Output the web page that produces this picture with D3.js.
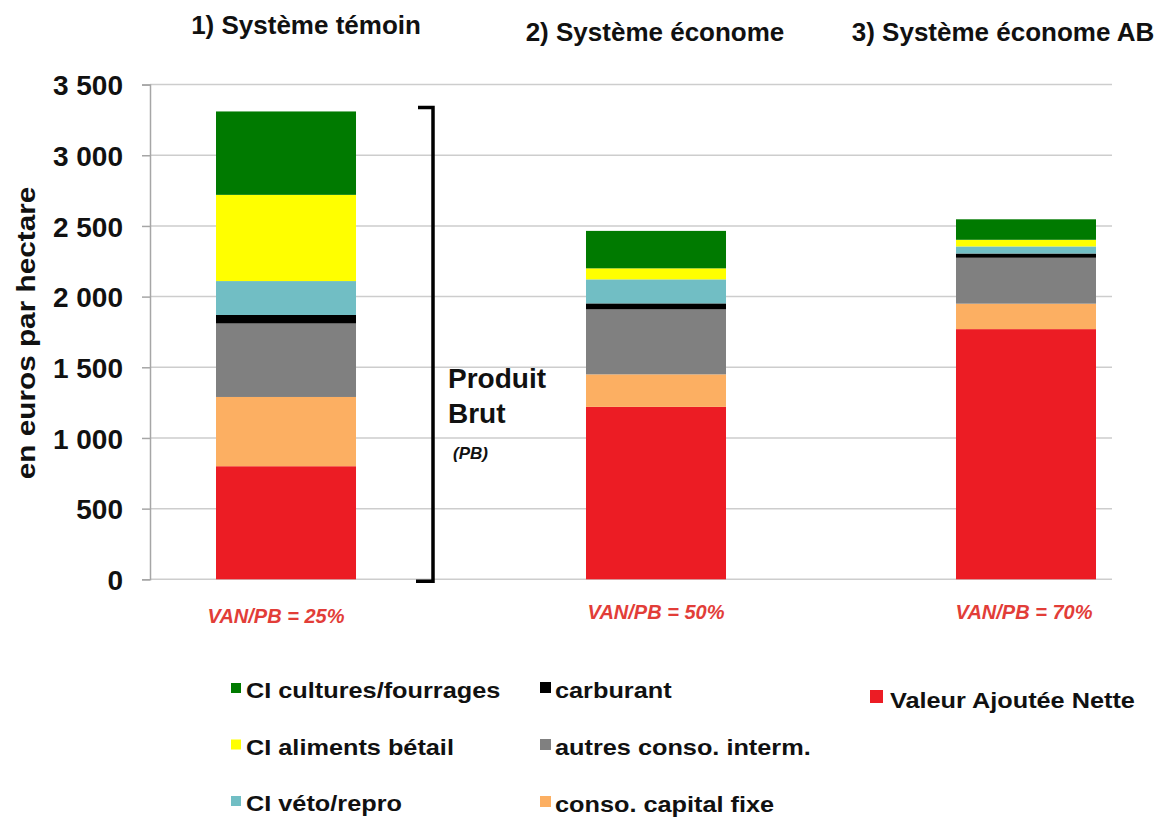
<!DOCTYPE html>
<html>
<head>
<meta charset="utf-8">
<script src="https://cdn.jsdelivr.net/npm/d3@7"></script>
<style>
  html, body { margin: 0; padding: 0; background: #ffffff; }
  svg { display: block; font-family: "Liberation Sans", Arial, sans-serif; }
</style>
</head>
<body>
<svg id="chart" width="1160" height="818"></svg>
<script>
// ---- data ----
const categories = ["1) Système témoin", "2) Système économe", "3) Système économe AB"];
const seriesNames = [
  "Valeur Ajoutée Nette",
  "conso. capital fixe",
  "autres conso. interm.",
  "carburant",
  "CI véto/repro",
  "CI aliments bétail",
  "CI cultures/fourrages"
];
const valeurAjouteeNette = [800, 1220, 1770];
const consoCapitalFixe    = [490, 230, 180];
const autresConsoInterm   = [520, 460, 325];
const carburant           = [60, 42, 30];
const ciVetoRepro         = [240, 170, 50];
const ciAlimentsBetail    = [610, 78, 47];
const ciCulturesFourrages = [590, 265, 145];
const ratioLabels = ["VAN/PB = 25%", "VAN/PB = 50%", "VAN/PB = 70%"];
const yTicks = [0, 500, 1000, 1500, 2000, 2500, 3000, 3500];
const yTitle = "en euros par hectare";
const bracketLabel = ["Produit", "Brut"];
const bracketSub = "(PB)";
const legendColumns = [
  ["CI cultures/fourrages", "CI aliments bétail", "CI véto/repro"],
  ["carburant", "autres conso. interm.", "conso. capital fixe"],
  ["Valeur Ajoutée Nette"]
];

const colors = {
  "Valeur Ajoutée Nette": "#ec1c24",
  "conso. capital fixe": "#fcaf62",
  "autres conso. interm.": "#808080",
  "carburant": "#000000",
  "CI véto/repro": "#71bec4",
  "CI aliments bétail": "#ffff00",
  "CI cultures/fourrages": "#007a00"
};

const seriesValues = [valeurAjouteeNette, consoCapitalFixe, autresConsoInterm,
  carburant, ciVetoRepro, ciAlimentsBetail, ciCulturesFourrages];
const rows = categories.map((c, i) => {
  const r = { cat: c };
  seriesNames.forEach((s, k) => { r[s] = seriesValues[k][i]; });
  return r;
});

// ---- layout ----
const svg = d3.select("#chart");
const plotLeft = 150, plotRight = 1112, plotTop = 84.6, plotBottom = 579.3;

const x = d3.scaleBand().domain(categories).range([216, 1096]).paddingInner(0.6216).paddingOuter(0);
const y = d3.scaleLinear().domain([0, 3500]).range([plotBottom, plotTop]);

const locale = d3.formatLocale({ decimal: ",", thousands: " ", grouping: [3], currency: ["", " €"] });
const fmt = locale.format(",");

// gridlines
svg.append("g")
  .selectAll("line")
  .data(yTicks)
  .join("line")
  .attr("x1", plotLeft).attr("x2", plotRight)
  .attr("y1", d => y(d)).attr("y2", d => y(d))
  .attr("stroke", "#cdcdcd").attr("stroke-width", 1.5);

// y axis
const yAxis = svg.append("g")
  .attr("transform", `translate(${plotLeft},0)`)
  .call(d3.axisLeft(y).tickValues(yTicks).tickFormat(fmt).tickSize(8).tickPadding(19));
yAxis.select(".domain").attr("stroke", "#a6a6a6").attr("stroke-width", 1.5);
yAxis.selectAll(".tick line").attr("stroke", "#a6a6a6").attr("stroke-width", 1.5);
yAxis.selectAll(".tick text")
  .attr("font-family", "'Liberation Sans', Arial, sans-serif")
  .attr("font-size", 28).attr("font-weight", "bold").attr("fill", "#111")
  .attr("dy", "0.36em");

// y title
svg.append("text")
  .attr("transform", "translate(35,333) rotate(-90) scale(1.19,1)")
  .attr("text-anchor", "middle")
  .attr("font-size", 25).attr("font-weight", "bold").attr("fill", "#111")
  .text(yTitle);

// stacked bars
const stacked = d3.stack().keys(seriesNames)(rows);
svg.append("g")
  .selectAll("g")
  .data(stacked)
  .join("g")
  .attr("fill", d => colors[d.key])
  .selectAll("rect")
  .data(d => d)
  .join("rect")
  .attr("x", d => x(d.data.cat))
  .attr("width", x.bandwidth())
  .attr("y", d => y(d[1]))
  .attr("height", d => y(d[0]) - y(d[1]));

// category titles
const titleDx = [20, -1, -23];
const titleY = [34, 41, 41];
svg.append("g")
  .selectAll("text")
  .data(categories)
  .join("text")
  .attr("x", (d, i) => x(d) + x.bandwidth() / 2 + titleDx[i])
  .attr("y", (d, i) => titleY[i])
  .attr("text-anchor", "middle")
  .attr("font-size", 26).attr("font-weight", "bold").attr("fill", "#111")
  .text(d => d);

// VAN/PB labels
const ratioDx = [-10, 0, -2];
const ratioY = [623, 619, 619];
svg.append("g")
  .selectAll("text")
  .data(ratioLabels)
  .join("text")
  .attr("x", (d, i) => x(categories[i]) + x.bandwidth() / 2 + ratioDx[i])
  .attr("y", (d, i) => ratioY[i])
  .attr("text-anchor", "middle")
  .attr("font-size", 20).attr("font-weight", "bold").attr("font-style", "italic")
  .attr("fill", "#e23d38")
  .text(d => d);

// Produit Brut bracket (spans bar 1 total)
const total1 = d3.sum(seriesValues, s => s[0]);
const bx = x(categories[0]) + x.bandwidth() + 77;
const bTop = y(total1) - 4, bBot = y(0) + 2;
svg.append("path")
  .attr("d", `M${bx - 15},${bTop} H${bx} V${bBot} H${bx - 17}`)
  .attr("fill", "none").attr("stroke", "#000").attr("stroke-width", 3.5);
svg.append("g")
  .selectAll("text")
  .data(bracketLabel)
  .join("text")
  .attr("x", bx + 15)
  .attr("y", (d, i) => 388 + i * 35)
  .attr("font-size", 28).attr("font-weight", "bold").attr("fill", "#111")
  .text(d => d);
svg.append("text")
  .attr("x", bx + 20).attr("y", 459)
  .attr("font-size", 17).attr("font-weight", "bold").attr("font-style", "italic").attr("fill", "#111")
  .text(bracketSub);

// legend
const colX = [231, 540, 870];
const colTextDx = [15, 15, 20];
const colY0 = [698, 698, 708];
const rowStep = [56.5, 57, 56];
const swSize = [10, 11, 13];
legendColumns.forEach((col, ci) => {
  const g = svg.append("g");
  const items = g.selectAll("g").data(col).join("g")
    .attr("transform", (d, i) => `translate(${colX[ci]},${colY0[ci] + i * rowStep[ci]})`);
  items.append("rect")
    .attr("x", 0).attr("y", -5 - swSize[ci]).attr("width", swSize[ci]).attr("height", swSize[ci])
    .attr("fill", d => colors[d]);
  items.append("text")
    .attr("transform", `translate(${colTextDx[ci]},0) scale(1.15,1)`)
    .attr("font-size", 22).attr("font-weight", "bold").attr("fill", "#111")
    .text(d => d);
});
</script>
</body>
</html>
